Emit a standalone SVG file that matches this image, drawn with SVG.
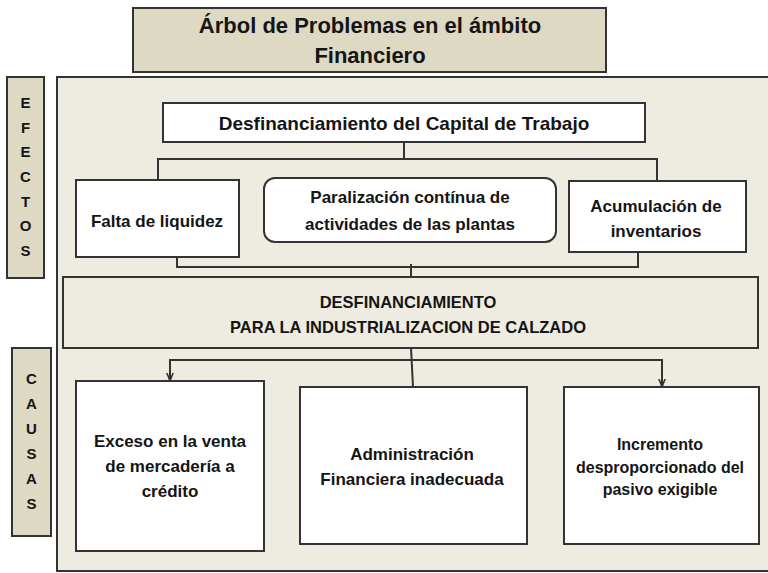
<svg xmlns="http://www.w3.org/2000/svg" width="768" height="573" viewBox="0 0 768 573">
<defs>
<style>
text{font-family:"Liberation Sans",Arial,sans-serif;font-weight:bold;fill:#151515;text-anchor:middle}
.tan{fill:#ddd9c3;stroke:#333;stroke-width:2}
.panel{fill:#eeece1;stroke:#333;stroke-width:2}
.box{fill:#fff;stroke:#333;stroke-width:2}
.ln{fill:none;stroke:#333;stroke-width:2}
.t{font-size:17px}
.s{font-size:16px}
.c{font-size:16.5px}
.lab{font-size:15px}
</style>
<marker id="arr" viewBox="0 0 10 10" refX="9" refY="5" markerWidth="8" markerHeight="8" markerUnits="userSpaceOnUse" orient="auto">
<path d="M0,1 L10,5 L0,9" fill="none" stroke="#333" stroke-width="2"/>
</marker>
</defs>
<rect width="768" height="573" fill="#fff"/>
<g id="title">
<rect class="tan" x="133" y="8" width="473" height="64"/>
<text x="370" y="33" style="font-size:22px">Árbol de Problemas en el ámbito</text>
<text x="370" y="63" style="font-size:22px">Financiero</text>
</g>
<rect class="panel" x="57" y="77" width="712" height="494"/>
<g id="efectos">
<rect class="tan" x="7" y="77" width="37" height="201"/>
<text class="lab" x="25.5" y="108">E</text>
<text class="lab" x="25.5" y="133">F</text>
<text class="lab" x="25.5" y="157">E</text>
<text class="lab" x="25.5" y="182">C</text>
<text class="lab" x="25.5" y="207">T</text>
<text class="lab" x="25.5" y="231">O</text>
<text class="lab" x="25.5" y="256">S</text>
</g>
<g id="causas">
<rect class="tan" x="12" y="348" width="39" height="188"/>
<text class="lab" x="31.5" y="384">C</text>
<text class="lab" x="31.5" y="409">A</text>
<text class="lab" x="31.5" y="434">U</text>
<text class="lab" x="31.5" y="459">S</text>
<text class="lab" x="31.5" y="484">A</text>
<text class="lab" x="31.5" y="509">S</text>
</g>
<g id="connectors">
<path class="ln" d="M404,142 V159 M158,180 V159 H657 V181"/>
<path class="ln" d="M177,257 V267 H638 V252 M411,264 V277"/>
<path class="ln" d="M411,348 L413,387"/>
<path class="ln" d="M412,360 H170 V380" marker-end="url(#arr)"/>
<path class="ln" d="M412,360 H662 V386" marker-end="url(#arr)"/>
</g>
<g id="capital">
<rect class="box" x="163" y="103" width="482" height="39"/>
<text x="404" y="130" style="font-size:19px">Desfinanciamiento  del Capital de Trabajo</text>
</g>
<g id="falta">
<rect class="box" x="76" y="180" width="163" height="77"/>
<text class="t" x="157" y="227">Falta de liquidez</text>
</g>
<g id="paralizacion">
<rect class="box" x="264" y="178" width="292" height="64" rx="11"/>
<text class="t" x="410" y="203">Paralización contínua de</text>
<text class="t" x="410" y="230">actividades de las plantas</text>
</g>
<g id="acumulacion">
<rect class="box" x="569" y="181" width="177" height="71"/>
<text class="t" x="656" y="212">Acumulación de</text>
<text class="t" x="656" y="237">inventarios</text>
</g>
<g id="desfin">
<rect class="panel" x="63" y="277" width="695" height="71"/>
<text class="c" x="408" y="308">DESFINANCIAMIENTO</text>
<text class="c" x="408" y="333">PARA LA INDUSTRIALIZACION DE CALZADO</text>
</g>
<g id="exceso">
<rect class="box" x="76" y="381" width="188" height="170"/>
<text class="t" x="170" y="447">Exceso en la venta</text>
<text class="t" x="170" y="472">de mercadería a</text>
<text class="t" x="170" y="497">crédito</text>
</g>
<g id="admin">
<rect class="box" x="300" y="387" width="227" height="157"/>
<text class="t" x="412" y="460">Administración</text>
<text class="t" x="412" y="485">Financiera inadecuada</text>
</g>
<g id="incremento">
<rect class="box" x="564" y="387" width="195" height="157"/>
<text class="s" x="660" y="450">Incremento</text>
<text class="s" x="660" y="473">desproporcionado del</text>
<text class="s" x="660" y="495">pasivo exigible</text>
</g>
</svg>
